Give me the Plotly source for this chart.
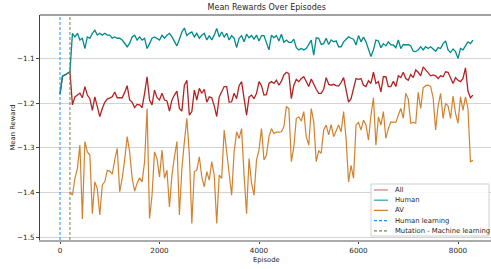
import plotly.graph_objects as go

# ---------------- data ----------------
EPISODE_STEP = 50
HUMAN_START = 0
AV_START = 200

human = [
    -1.180, -1.140, -1.137, -1.133, -1.130,
    -1.044, -1.052, -1.044, -1.059, -1.055, -1.078, -1.052, -1.055, -1.044, -1.037,
    -1.048, -1.044, -1.048, -1.044, -1.048, -1.048, -1.055, -1.052, -1.055, -1.055,
    -1.059, -1.066, -1.074, -1.066, -1.052, -1.048, -1.059, -1.052,
    -1.059, -1.055, -1.078, -1.067, -1.055, -1.052, -1.055, -1.059, -1.048, -1.055,
    -1.048, -1.044, -1.052, -1.061, -1.072, -1.057, -1.041, -1.032, -1.049, -1.044,
    -1.041, -1.052, -1.044, -1.055, -1.048, -1.044, -1.059, -1.049, -1.059, -1.048,
    -1.033, -1.052,
    -1.041, -1.052, -1.044, -1.059, -1.049, -1.055, -1.076, -1.055, -1.049, -1.063,
    -1.046, -1.054, -1.049, -1.057, -1.048, -1.061, -1.049, -1.049, -1.067, -1.081,
    -1.048, -1.054, -1.049, -1.061, -1.046, -1.064, -1.059, -1.064, -1.064, -1.057,
    -1.076, -1.081,
    -1.078, -1.081, -1.078, -1.067, -1.059, -1.093, -1.054, -1.055, -1.069, -1.067,
    -1.055, -1.069, -1.059, -1.063, -1.061, -1.074, -1.074, -1.063, -1.057, -1.052,
    -1.055, -1.057, -1.070, -1.049, -1.063, -1.052, -1.063, -1.081, -1.096, -1.081,
    -1.059, -1.061,
    -1.076, -1.067, -1.072, -1.063, -1.070, -1.070, -1.076, -1.059, -1.078, -1.069,
    -1.070, -1.069, -1.072, -1.084, -1.085, -1.081, -1.074, -1.081, -1.074, -1.078,
    -1.074, -1.079, -1.084, -1.076, -1.078, -1.067, -1.061, -1.081, -1.087, -1.079,
    -1.085, -1.100, -1.078, -1.081, -1.072, -1.063, -1.067, -1.059,
]

all_agents = [
    -1.180, -1.140, -1.137, -1.133, -1.130,
    -1.204, -1.186, -1.182, -1.178, -1.188, -1.163, -1.182, -1.190, -1.216, -1.186,
    -1.208, -1.230, -1.212, -1.198, -1.191, -1.188, -1.186, -1.175, -1.188, -1.188,
    -1.188, -1.176, -1.161, -1.193, -1.198, -1.210, -1.203, -1.204,
    -1.210, -1.178, -1.141, -1.193, -1.204, -1.171, -1.188, -1.193, -1.178, -1.193,
    -1.195, -1.218, -1.193, -1.182, -1.173, -1.212, -1.218, -1.160, -1.149, -1.227,
    -1.219, -1.171, -1.193, -1.167, -1.178, -1.169, -1.198, -1.186, -1.188, -1.206,
    -1.230, -1.186,
    -1.175, -1.163, -1.163, -1.198, -1.197, -1.178, -1.190, -1.161, -1.152, -1.188,
    -1.227, -1.186, -1.182, -1.190, -1.178, -1.152, -1.161, -1.182, -1.181, -1.156,
    -1.152, -1.156, -1.149, -1.160, -1.151, -1.137, -1.131, -1.134, -1.190, -1.160,
    -1.147, -1.152,
    -1.145, -1.141, -1.151, -1.163, -1.146, -1.158, -1.169, -1.178, -1.178, -1.169,
    -1.143, -1.158, -1.160, -1.158, -1.161, -1.162, -1.154, -1.143, -1.173, -1.198,
    -1.190, -1.166, -1.145, -1.147, -1.145, -1.160, -1.163, -1.150, -1.156, -1.131,
    -1.156, -1.152,
    -1.175, -1.141, -1.141, -1.163, -1.163, -1.151, -1.163, -1.139, -1.143, -1.131,
    -1.145, -1.149, -1.136, -1.143, -1.126, -1.131, -1.139, -1.119, -1.126, -1.131,
    -1.139, -1.137, -1.139, -1.145, -1.139, -1.141, -1.130, -1.131, -1.145, -1.156,
    -1.143, -1.149, -1.152, -1.145, -1.121, -1.173, -1.188, -1.182,
]

av = [
    -1.398, -1.406, -1.368, -1.346, -1.294, -1.459, -1.286, -1.309, -1.316, -1.447,
    -1.376, -1.391, -1.450, -1.383, -1.376, -1.350, -1.352, -1.359, -1.327, -1.301,
    -1.398, -1.368, -1.327, -1.275, -1.309, -1.368, -1.397, -1.379, -1.367,
    -1.376, -1.331, -1.212, -1.458, -1.406, -1.309, -1.324, -1.365, -1.305, -1.368,
    -1.350, -1.432, -1.361, -1.320, -1.286, -1.450, -1.346, -1.286, -1.234, -1.316,
    -1.469, -1.353, -1.350, -1.320, -1.365, -1.387, -1.353, -1.372, -1.331, -1.361,
    -1.469, -1.361,
    -1.368, -1.260, -1.309, -1.361, -1.406, -1.309, -1.264, -1.279, -1.257, -1.361,
    -1.447, -1.324, -1.379, -1.406, -1.327, -1.305, -1.257, -1.327, -1.316, -1.275,
    -1.257, -1.268, -1.265, -1.265, -1.264, -1.253, -1.208, -1.212, -1.331, -1.298,
    -1.234, -1.231,
    -1.240, -1.219, -1.275, -1.294, -1.212, -1.242, -1.331, -1.307, -1.312, -1.260,
    -1.249, -1.271, -1.248, -1.275, -1.260, -1.249, -1.264, -1.219, -1.279, -1.376,
    -1.339, -1.368, -1.249, -1.243, -1.260, -1.238, -1.249, -1.283, -1.227, -1.188,
    -1.294, -1.231,
    -1.249, -1.219, -1.279, -1.257, -1.242, -1.242, -1.243, -1.227, -1.212, -1.234,
    -1.178, -1.191, -1.245, -1.243, -1.245, -1.176, -1.212, -1.166, -1.161, -1.160,
    -1.163, -1.188, -1.260, -1.206, -1.178, -1.234, -1.201, -1.206, -1.234, -1.184,
    -1.223, -1.245, -1.186, -1.216, -1.186, -1.212, -1.331, -1.328,
]

HUMAN_LEARNING_EPISODE = 0
MUTATION_EPISODE = 200

x_tick_vals = [0, 2000, 4000, 6000, 8000]
y_tick_vals = [-1.5, -1.4, -1.3, -1.2, -1.1]

episodes_main = [HUMAN_START + i * EPISODE_STEP for i in range(len(human))]
episodes_av = [AV_START + i * EPISODE_STEP for i in range(len(av))]

# ---------------- styling ----------------
W, H = 491, 269
ML, MR, MT, MB = 40, 0, 15, 29
PW, PH = W - ML - MR, H - MT - MB

FONT = "DejaVu Sans, sans-serif"
TXT = "#262626"
C_ALL = "#b22222"
C_HUMAN = "#008b8b"
C_AV = "#d2822f"
C_HL = "#1e90ff"
C_MUT = "#6f8a4f"
DASH = "3px,2px"


def px_x(p):
    return (p - ML) / PW


def px_y(p):
    return (H - MB - p) / PH


fig = go.Figure()
fig.add_trace(go.Scatter(x=episodes_main, y=all_agents, mode="lines", name="All",
                         line=dict(color=C_ALL, width=1.3)))
fig.add_trace(go.Scatter(x=episodes_main, y=human, mode="lines", name="Human",
                         line=dict(color=C_HUMAN, width=1.3)))
fig.add_trace(go.Scatter(x=episodes_av, y=av, mode="lines", name="AV",
                         line=dict(color=C_AV, width=1.2)))

fig.add_vline(x=HUMAN_LEARNING_EPISODE, line=dict(color=C_HL, width=1, dash=DASH))
fig.add_vline(x=MUTATION_EPISODE, line=dict(color=C_MUT, width=1, dash=DASH))

# top border
fig.add_shape(type="line", xref="paper", yref="paper", x0=0, x1=1, y0=1, y1=1,
              line=dict(color="#444444", width=1))

# custom compact legend (matplotlib style)
legend_items = [
    ("All", "#d98484", "solid"),
    ("Human", "#3fa9a6", "solid"),
    ("AV", C_AV, "solid"),
    ("Human learning", C_HL, DASH),
    ("Mutation - Machine learning", C_MUT, DASH),
]
fig.add_shape(type="rect", xref="paper", yref="paper",
              x0=px_x(371), x1=px_x(489), y0=px_y(236), y1=px_y(184),
              fillcolor="rgba(255,255,255,0.85)", line=dict(color="#d0d0d0", width=1))
for i, (name, col, dash) in enumerate(legend_items):
    yc = 190 + i * 10.2
    fig.add_shape(type="line", xref="paper", yref="paper",
                  x0=px_x(374), x1=px_x(388), y0=px_y(yc), y1=px_y(yc),
                  line=dict(color=col, width=1.3, dash=dash))
    fig.add_annotation(text=name, xref="paper", yref="paper", x=px_x(392.5), y=px_y(yc),
                       xanchor="left", yanchor="middle", showarrow=False,
                       font=dict(size=6.8, color=TXT, family=FONT))

# axis titles
fig.add_annotation(text="Episode", xref="paper", yref="paper", x=px_x(266.5), y=px_y(259.5),
                   xanchor="center", yanchor="middle", showarrow=False,
                   font=dict(size=6.8, color=TXT, family=FONT))
fig.add_annotation(text="Mean Reward", xref="paper", yref="paper", x=px_x(12), y=0.5,
                   xanchor="center", yanchor="middle", textangle=-90, showarrow=False,
                   font=dict(size=6.8, color=TXT, family=FONT))

fig.update_layout(
    width=W, height=H,
    margin=dict(l=ML, r=MR, t=MT, b=MB, autoexpand=False),
    paper_bgcolor="white", plot_bgcolor="white",
    font=dict(family=FONT, size=7.2, color=TXT),
    title=dict(text="Mean Rewards Over Episodes", x=px_x(266.7), xref="paper", xanchor="center",
               y=1 - 7.5 / H, yref="container", yanchor="middle",
               font=dict(size=8, color=TXT)),
    showlegend=False,
    xaxis=dict(range=[-402, 8663], tickvals=x_tick_vals, ticks="outside", ticklen=2,
               tickcolor="#444444", showgrid=False, zeroline=False,
               showline=True, linecolor="#aaaaaa", linewidth=2,
               tickfont=dict(size=7.2), automargin=False),
    yaxis=dict(range=[-1.506, -1.003], tickvals=y_tick_vals, tickformat=".1f",
               ticks="outside", ticklen=3, tickcolor="#444444",
               showgrid=True, gridcolor="#d3d3d3", gridwidth=1, zeroline=False,
               showline=True, linecolor="#444444", linewidth=1,
               tickfont=dict(size=7.2), automargin=False),
)

fig.write_html("out.html", config={"displayModeBar": False},
               post_script="document.body.style.margin='0';")
